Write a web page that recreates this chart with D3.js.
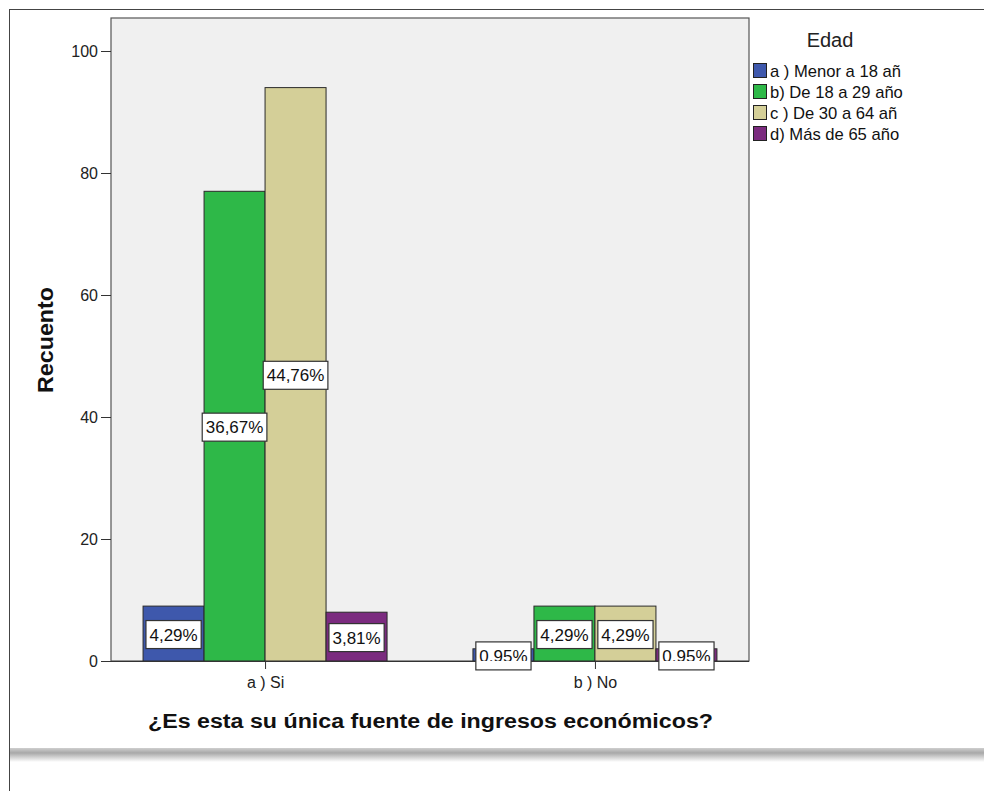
<!DOCTYPE html>
<html><head><meta charset="utf-8">
<script src="https://cdn.jsdelivr.net/npm/d3@7"></script>
<style>html,body{margin:0;padding:0;background:#fff;overflow:hidden}</style>
</head><body>
<script>
const categories = ["a ) Si", "b ) No"];
const seriesNames = ["a ) Menor a 18 añ", "b) De 18 a 29 año", "c ) De 30 a 64 añ", "d) Más de 65 año"];
const seriesColors = ["#3e58ac", "#2eb848", "#d4cf98", "#7b2b7f"];
const countsSi = [9, 77, 94, 8];
const countsNo = [2, 9, 9, 2];
const pctSi = ["4,29%", "36,67%", "44,76%", "3,81%"];
const pctNo = ["0,95%", "4,29%", "4,29%", "0,95%"];
const yTicks = [0, 20, 40, 60, 80, 100];

const W = 984, H = 791;
const svg = d3.select("body").append("svg").attr("width", W).attr("height", H);
const font = "Arial, 'Liberation Sans', sans-serif";

// outer frame
svg.append("line").attr("x1", 9.5).attr("x2", 9.5).attr("y1", 9).attr("y2", H).attr("stroke", "#444");
svg.append("line").attr("x1", 9).attr("x2", W).attr("y1", 9.5).attr("y2", 9.5).attr("stroke", "#444");
const defs = svg.append("defs");
const g1 = defs.append("linearGradient").attr("id", "shadow").attr("x1", 0).attr("x2", 0).attr("y1", 0).attr("y2", 1);
g1.append("stop").attr("offset", "0%").attr("stop-color", "#cfcfcf");
g1.append("stop").attr("offset", "35%").attr("stop-color", "#a8a8a8");
g1.append("stop").attr("offset", "100%").attr("stop-color", "#ffffff");
svg.append("rect").attr("x", 10).attr("y", 748).attr("width", W - 10).attr("height", 14).attr("fill", "url(#shadow)");

const L = 111, R = 749, T = 18, B = 661;
const y = d3.scaleLinear().domain([0, 100]).range([B, 51]);
const x = d3.scalePoint().domain(categories).range([L, R]).padding(0.467);
const xs = d3.scaleBand().domain(d3.range(4)).range([-122, 122]).padding(0);

defs.append("clipPath").attr("id", "plotclip").append("rect").attr("x", L).attr("y", T).attr("width", R - L).attr("height", B - T);

svg.append("rect").attr("x", L).attr("y", T).attr("width", R - L).attr("height", B - T)
  .attr("fill", "#f0f0f0").attr("stroke", "#555").attr("stroke-width", 1.2);

const data = [];
categories.forEach((c, ci) => {
  const vals = ci === 0 ? countsSi : countsNo;
  const pcts = ci === 0 ? pctSi : pctNo;
  vals.forEach((v, si) => data.push({ c, si, v, p: pcts[si] }));
});

const bars = svg.append("g");
bars.selectAll("rect").data(data).join("rect")
  .attr("x", d => x(d.c) + xs(d.si))
  .attr("y", d => y(d.v))
  .attr("width", xs.bandwidth())
  .attr("height", d => y(0) - y(d.v))
  .attr("fill", d => seriesColors[d.si])
  .attr("stroke", "#2a2a2a").attr("stroke-width", 1);

// axes
const yAxis = svg.append("g").attr("transform", `translate(${L},0)`)
  .call(d3.axisLeft(y).tickValues(yTicks).tickSize(10).tickPadding(3));
yAxis.select(".domain").remove();
yAxis.selectAll("line").attr("stroke", "#333");
yAxis.selectAll("text").attr("font-family", font).attr("font-size", 16).attr("fill", "#222");

const xAxis = svg.append("g").attr("transform", `translate(0,${B})`)
  .call(d3.axisBottom(x).tickSize(8).tickPadding(8));
xAxis.select(".domain").remove();
xAxis.selectAll("line").attr("stroke", "#333");
xAxis.selectAll("text").attr("font-family", font).attr("font-size", 16).attr("fill", "#222");
svg.append("line").attr("x1", L - 10).attr("x2", R).attr("y1", B + 0.5).attr("y2", B + 0.5).attr("stroke", "#333");

// value labels
const lab = svg.append("g");
data.forEach(d => {
  const cx = x(d.c) + xs(d.si) + xs.bandwidth() / 2;
  const cy = (y(d.v) + y(0)) / 2;
  const t = lab.append("text").attr("x", cx).attr("y", cy + 7).attr("text-anchor", "middle")
    .attr("font-family", font).attr("font-size", 17).attr("fill", "#111").text(d.p);
  const w = t.node().getComputedTextLength();
  lab.insert("rect", "text").attr("x", cx - w / 2 - 3.5).attr("y", cy - 13).attr("width", w + 7).attr("height", 28)
    .attr("fill", "#fff").attr("stroke", "#333").attr("stroke-width", 1.2);
  if (d.v < 3) t.attr("clip-path", "url(#plotclip)");
});

// axis titles
svg.append("text").attr("transform", "translate(53,340) rotate(-90)").attr("text-anchor", "middle")
  .attr("font-family", font).attr("font-weight", "bold").attr("font-size", 22).attr("fill", "#111")
  .attr("textLength", 106).attr("lengthAdjust", "spacingAndGlyphs").text("Recuento");
svg.append("text").attr("x", 430.5).attr("y", 728).attr("text-anchor", "middle")
  .attr("font-family", font).attr("font-weight", "bold").attr("font-size", 20).attr("fill", "#111")
  .attr("textLength", 565).attr("lengthAdjust", "spacingAndGlyphs")
  .text("¿Es esta su única fuente de ingresos económicos?");

// legend
svg.append("text").attr("x", 830).attr("y", 47).attr("text-anchor", "middle")
  .attr("font-family", font).attr("font-size", 20).attr("fill", "#222").text("Edad");
const leg = svg.append("g");
seriesNames.forEach((n, i) => {
  const yy = 63 + i * 21;
  leg.append("rect").attr("x", 753.5).attr("y", yy + 0.5).attr("width", 13).attr("height", 14)
    .attr("fill", seriesColors[i]).attr("stroke", "#222").attr("stroke-width", 1);
  leg.append("text").attr("x", 770).attr("y", yy + 14).attr("font-family", font).attr("font-size", 16.6)
    .attr("fill", "#111").text(n);
});
</script>
</body></html>
